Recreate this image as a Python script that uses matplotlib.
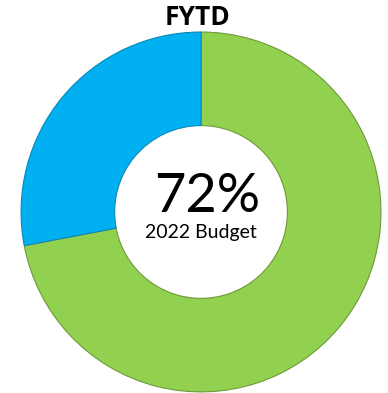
import matplotlib.pyplot as plt

labels = ['Spent', 'Remaining']
values = [72, 28]
colors = ['#92D050', '#00B0F0']
center_value = '72%'
center_label = '2022 Budget'
title = 'FYTD'

fig = plt.figure(figsize=(3.88, 3.93), dpi=100)
ax = fig.add_axes([0, 0, 1, 1])

wedges, _ = ax.pie(values, colors=colors, startangle=90, counterclock=False,
                   radius=1.0,
                   wedgeprops=dict(width=0.52, edgecolor='#6f9a3a', linewidth=0.8))
wedges[1].set_edgecolor('#0a86b8')

# centre text
ax.text(0.035, 0.085, center_value, ha='center', va='center', fontsize=39, family='Lato')
ax.text(0, -0.115, center_label, ha='center', va='center', fontsize=14, family='Lato')
ax.text(-0.02, 1.08, title, ha='center', va='center', fontsize=19, fontweight='bold', family='Open Sans')

ax.set_xlim(-1.117, 1.039)
ax.set_ylim(-1.006, 1.178)
ax.set_aspect('equal')
ax.axis('off')

fig.savefig('out.png', dpi=100)
